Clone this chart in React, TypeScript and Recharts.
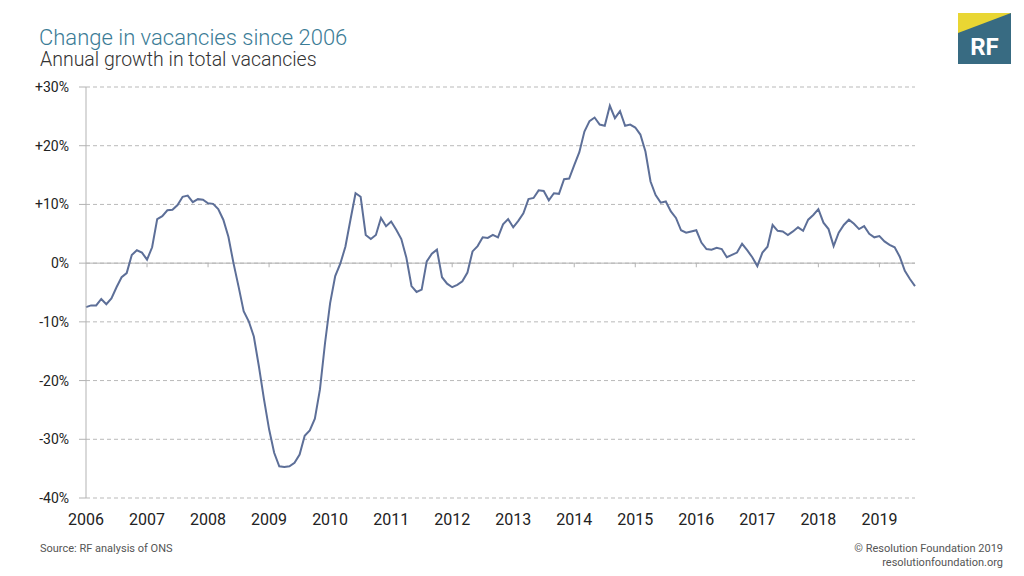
import { LineChart, Line, XAxis, YAxis, CartesianGrid, ReferenceLine } from "recharts";

// annual growth in total vacancies (%), monthly, Jan 2006 - Aug 2019
const growth2006 = [-7.5, -7.2, -7.2, -6.1, -7.0, -6.0, -4.1, -2.4, -1.7, 1.4, 2.2, 1.8];
const growth2007 = [0.6, 2.7, 7.5, 8.0, 9.0, 9.1, 9.9, 11.3, 11.5, 10.4, 10.9, 10.8];
const growth2008 = [10.2, 10.1, 9.2, 7.4, 4.5, 0.0, -4.0, -8.2, -9.9, -12.5, -17.6, -23.2];
const growth2009 = [-28.3, -32.3, -34.6, -34.7, -34.6, -34.0, -32.6, -29.4, -28.5, -26.5, -21.5, -13.6];
const growth2010 = [-6.8, -2.2, -0.1, 2.8, 7.4, 11.9, 11.3, 4.8, 4.1, 4.8, 7.7, 6.3];
const growth2011 = [7.1, 5.7, 4.1, 0.9, -3.9, -4.9, -4.5, 0.3, 1.6, 2.3, -2.4, -3.5];
const growth2012 = [-4.1, -3.7, -3.1, -1.6, 2.0, 2.9, 4.4, 4.3, 4.8, 4.4, 6.6, 7.5];
const growth2013 = [6.1, 7.2, 8.5, 10.9, 11.1, 12.4, 12.3, 10.7, 11.9, 11.8, 14.3, 14.4];
const growth2014 = [16.7, 18.9, 22.4, 24.2, 24.8, 23.6, 23.4, 26.8, 24.7, 25.9, 23.4, 23.6];
const growth2015 = [23.1, 21.9, 19.0, 13.9, 11.6, 10.3, 10.5, 8.8, 7.7, 5.6, 5.2, 5.4];
const growth2016 = [5.6, 3.5, 2.4, 2.3, 2.6, 2.4, 1.0, 1.4, 1.8, 3.3, 2.2, 1.0];
const growth2017 = [-0.5, 1.8, 2.8, 6.5, 5.5, 5.4, 4.8, 5.4, 6.1, 5.5, 7.4, 8.2];
const growth2018 = [9.2, 6.9, 5.8, 2.9, 5.2, 6.5, 7.4, 6.7, 5.8, 6.3, 5.0, 4.4];
const growth2019 = [4.6, 3.7, 3.1, 2.7, 1.1, -1.3, -2.7, -3.9];

const yearLabels = ["2006", "2007", "2008", "2009", "2010", "2011", "2012", "2013", "2014", "2015", "2016", "2017", "2018", "2019"];
const yTicks = [-40, -30, -20, -10, 0, 10, 20, 30];

const allGrowth = [
  ...growth2006, ...growth2007, ...growth2008, ...growth2009, ...growth2010,
  ...growth2011, ...growth2012, ...growth2013, ...growth2014, ...growth2015,
  ...growth2016, ...growth2017, ...growth2018, ...growth2019,
];
const data = allGrowth.map((v, i) => ({ i, v }));
const lastIndex = data.length - 1;
const xTicks = yearLabels.map((_, k) => k * 12);

const FONT = "Roboto, 'Liberation Sans', Arial, sans-serif";
const GRID = "#b9b9b9";
const AXIS = "#b3b3b3";

const fmtPct = (v: number) => (v > 0 ? `+${v}%` : `${v}%`);

export default function App() {
  return (
    <div style={{ position: "fixed", left: 0, top: 0, width: 1024, height: 576, background: "#fff", fontFamily: FONT }}>
      <div style={{ position: "absolute", left: 39, top: 25, fontSize: 22, fontWeight: 300, color: "#3b7c96", lineHeight: "26px" }}>
        Change in vacancies since 2006
      </div>
      <div style={{ position: "absolute", left: 40, top: 49, fontSize: 19.5, fontWeight: 300, color: "#333", lineHeight: "22px" }}>
        Annual growth in total vacancies
      </div>

      <svg style={{ position: "absolute", left: 958, top: 13 }} width={53} height={51}>
        <rect x={0} y={0} width={53} height={51} fill="#386b82" />
        <polygon points="0,0 53,0 0,20" fill="#e9d633" />
        <text x={26.5} y={42} textAnchor="middle" fill="#fff" fontSize={24} fontWeight={700} fontFamily={FONT}>
          RF
        </text>
      </svg>

      <div style={{ position: "absolute", left: 0, top: 0 }}>
        <LineChart width={1024} height={576} data={data} margin={{ top: 87, right: 109, bottom: 48, left: 26 }}>
          <CartesianGrid vertical={false} stroke={GRID} strokeDasharray="4 3" />
          <XAxis
            dataKey="i"
            type="number"
            domain={[0, lastIndex]}
            ticks={xTicks}
            tickFormatter={(v: number) => yearLabels[v / 12]}
            axisLine={false}
            tickLine={false}
            tickMargin={10}
            height={30}
            tick={{ fontSize: 16, fill: "#222", fontFamily: FONT }}
            interval={0}
          />
          <YAxis
            type="number"
            domain={[-40, 30]}
            ticks={yTicks}
            tickFormatter={fmtPct}
            axisLine={{ stroke: AXIS }}
            tickLine={{ stroke: AXIS }}
            tickSize={7}
            tickMargin={10}
            width={60}
            tick={{ fontSize: 14, fill: "#222", fontFamily: FONT }}
            interval={0}
          />
          <ReferenceLine y={0} stroke={AXIS} strokeWidth={1} />
          {xTicks.slice(1).map((t) => (
            <ReferenceLine
              key={t}
              segment={[{ x: t, y: 0 }, { x: t, y: -0.7 }]}
              stroke={AXIS}
            />
          ))}
          <Line
            type="linear"
            dataKey="v"
            stroke="#5d6f98"
            strokeWidth={2}
            dot={false}
            isAnimationActive={false}
          />
        </LineChart>
      </div>

      <div style={{ position: "absolute", left: 40, top: 542, fontSize: 11, color: "#555" }}>
        Source: RF analysis of ONS
      </div>
      <div style={{ position: "absolute", right: 21, top: 542, fontSize: 11, color: "#555", textAlign: "right", lineHeight: "14px" }}>
        © Resolution Foundation 2019
        <br />
        resolutionfoundation.org
      </div>
    </div>
  );
}
